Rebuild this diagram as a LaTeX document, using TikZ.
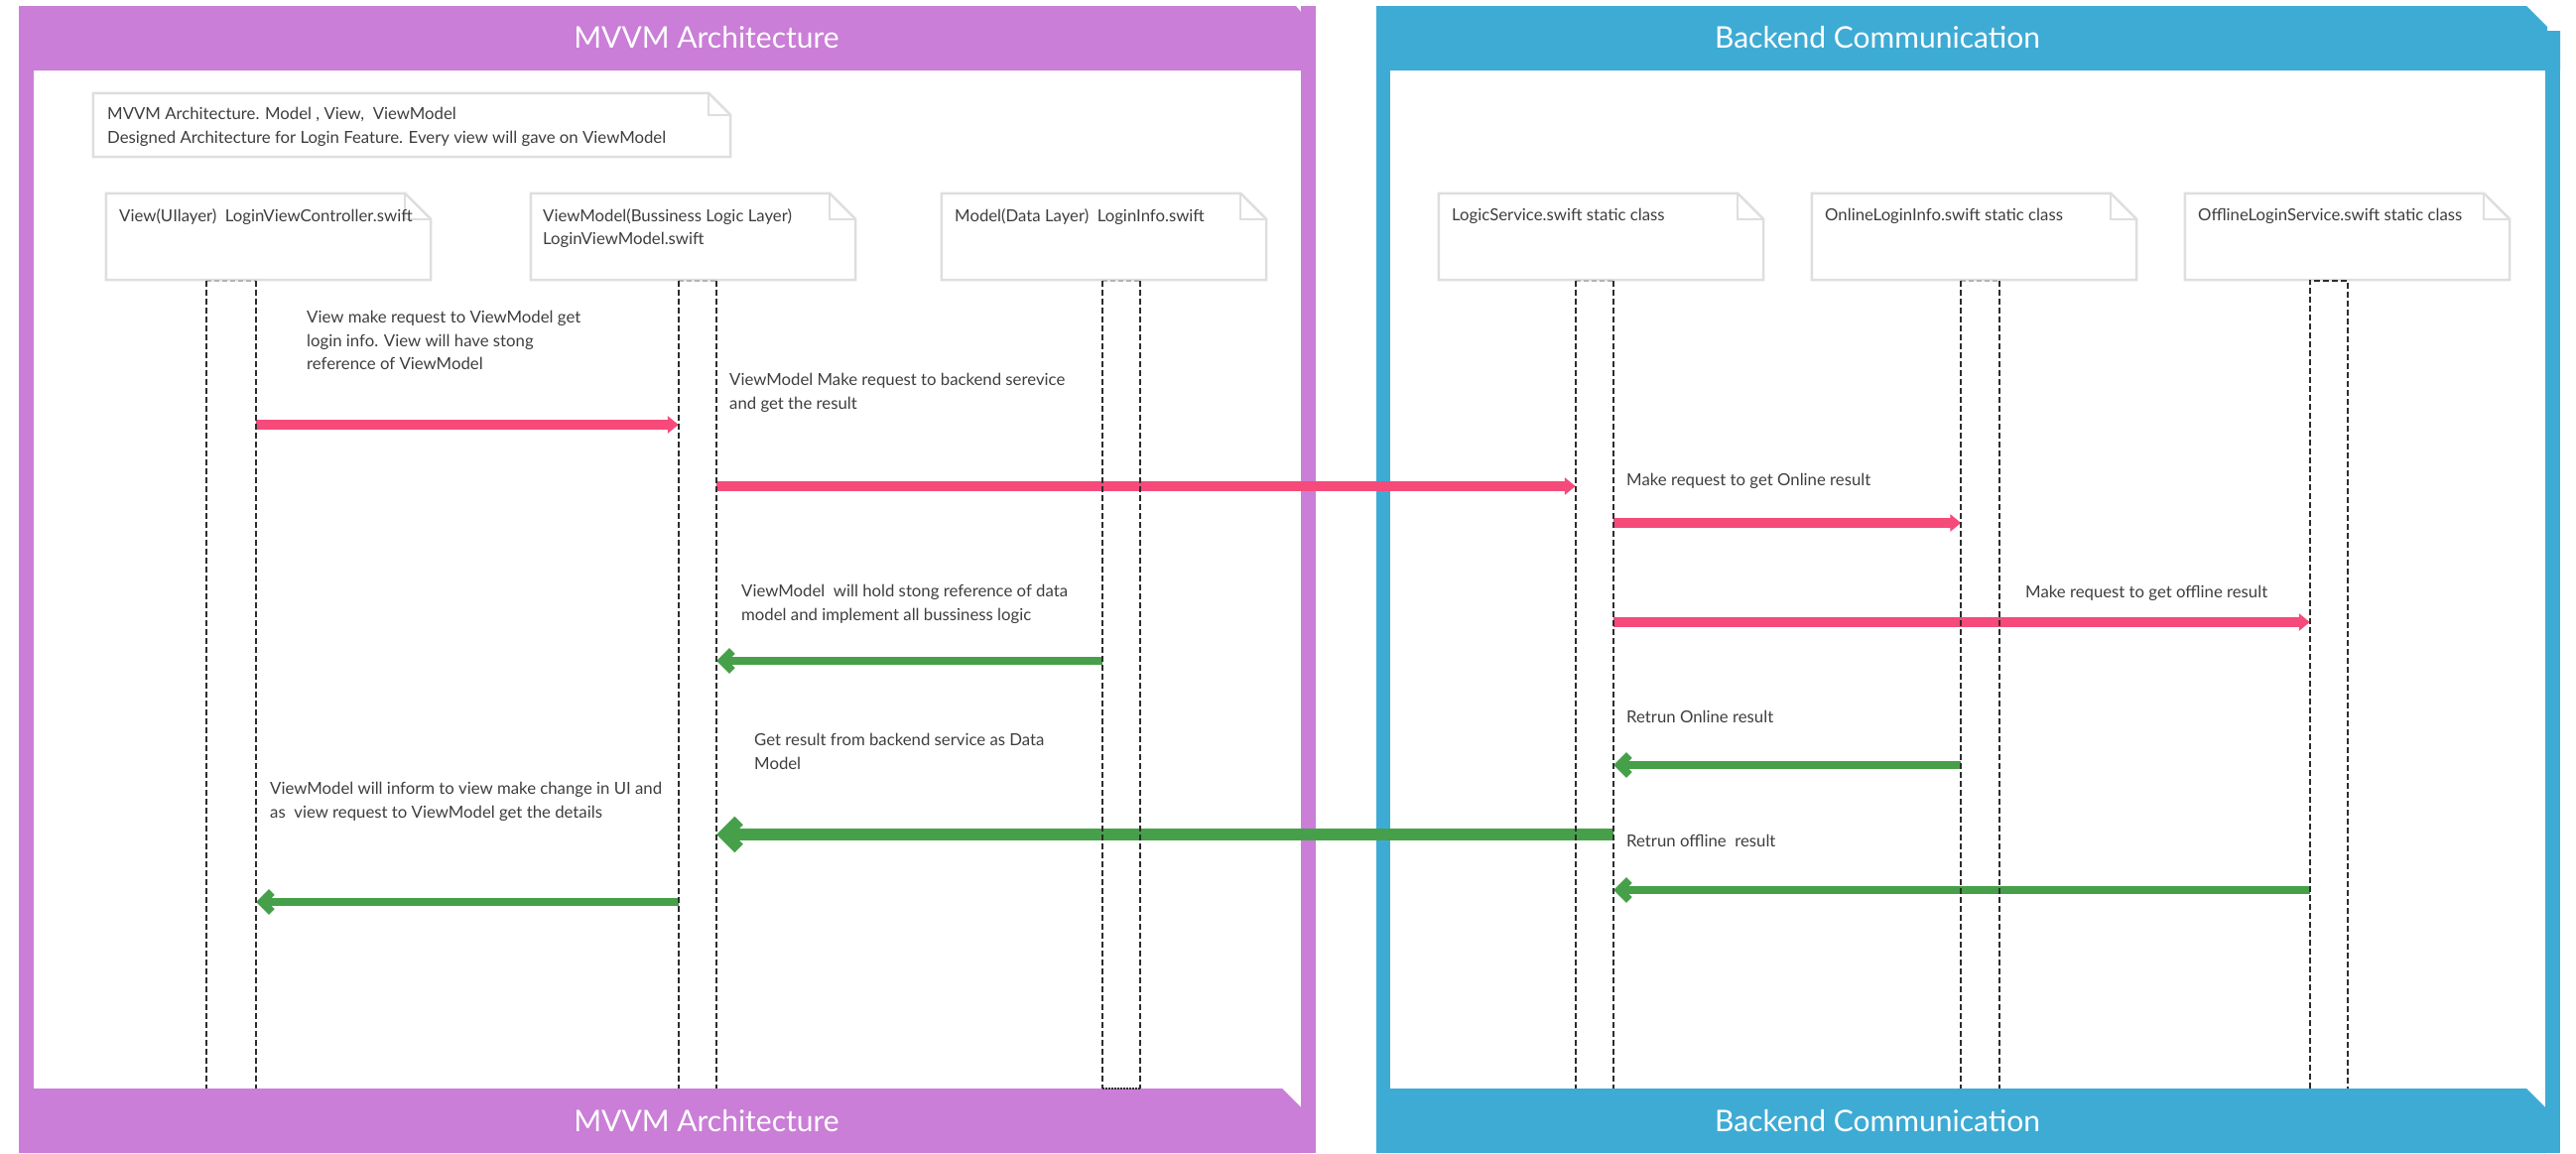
\documentclass[tikz,border=0pt]{standalone}
\usepackage{fontspec}
\setmainfont{Lato}
\usetikzlibrary{arrows.meta}
\definecolor{mvvmc}{RGB}{202,126,215}
\definecolor{backc}{RGB}{62,171,213}
\definecolor{pinkc}{RGB}{245,74,122}
\definecolor{greenc}{RGB}{70,160,74}
\definecolor{notegray}{RGB}{222,222,222}
\definecolor{txtc}{RGB}{62,62,62}
\definecolor{lifec}{RGB}{45,45,45}
\newcommand\foldnote[2]{%
  \draw[noteline] (#1.north west) -- ([xshift=-#2]#1.north east) -- ([yshift=-#2]#1.north east) -- (#1.south east) -- (#1.south west) -- cycle;
  \draw[noteline,fill=none] ([xshift=-#2]#1.north east) |- ([yshift=-#2]#1.north east);}
\begin{document}
\begin{tikzpicture}[x=1pt,y=-1pt,
  lbl/.style={anchor=north west, inner sep=0pt, align=left, text=txtc, font=\fontsize{16.75}{23.5}\selectfont},
  ttl/.style={text=white, inner sep=0pt, font=\fontsize{30}{35}\selectfont},
  notebox/.style={inner sep=0pt, minimum width=327pt, minimum height=87pt},
  noteline/.style={draw=notegray, line width=2.5pt, fill=white, line join=miter},
  barbox/.style={inner sep=0pt, minimum width=38pt, minimum height=814pt},
  lifeline/.style={draw=lifec, line width=2pt, dash pattern=on 6pt off 3pt},
  bartop/.style={draw=lifec!35, line width=1.5pt, dash pattern=on 5pt off 3pt},
  req/.style={draw=pinkc, line width=10pt, -{Triangle[length=11pt,width=17pt]}},
  ret/.style={draw=greenc, line width=8pt, -{Straight Barb[length=10pt,width=20pt,sharp]}},
  retbig/.style={draw=greenc, line width=12pt, -{Straight Barb[length=14pt,width=28pt,sharp]}}
]
\useasboundingbox (0,0) rectangle (2596,1162);
% ---------- frames ----------
\fill[mvvmc] (19,6) rectangle (34,1162);
\fill[mvvmc] (19,6) -- (1306,6) -- (1311,12) -- (1311,71) -- (19,71) -- cycle;
\fill[mvvmc] (1311,6) rectangle (1326,1162);
\fill[mvvmc] (19,1097) -- (1292,1097) -- (1311,1116) -- (1311,1162) -- (19,1162) -- cycle;
\fill[backc] (1387,6) rectangle (1401,1162);
\fill[backc] (1387,6) -- (2546,6) -- (2567,27) -- (2567,31) -- (2580,31) -- (2580,71) -- (1387,71) -- cycle;
\fill[backc] (2565,31) rectangle (2580,1162);
\fill[backc] (1387,1097) -- (2546,1097) -- (2565,1116) -- (2565,1162) -- (1387,1162) -- cycle;
\node[ttl] (mvvmTop) at (712,38) {MVVM Architecture};
\node[ttl] (mvvmBot) at (712,1130) {MVVM Architecture};
\node[ttl] (backTop) at (1892,38) {Backend Communication};
\node[ttl] (backBot) at (1892,1130) {Backend Communication};
% ---------- notes ----------
\node[inner sep=0pt, minimum width=642pt, minimum height=64pt] (desc) at (415,126) {};
\foldnote{desc}{22pt}
\node[lbl] (descT) at (108,108) {MVVM Architecture. Model , View,~ ViewModel\\Designed Architecture for Login Feature. Every view will gave on ViewModel};
\node[notebox] (nA) at (270.5,238.5) {};
\node[notebox] (nB) at (698.5,238.5) {};
\node[notebox] (nC) at (1112.5,238.5) {};
\node[notebox] (nD) at (1613.5,238.5) {};
\node[notebox] (nE) at (1989.5,238.5) {};
\node[notebox] (nF) at (2365.5,238.5) {};
\foreach \n in {nA,nB,nC,nD,nE,nF} {\foldnote{\n}{26pt}}
\node[lbl] (tA) at (120,210) {View(UIlayer)~ LoginViewController.swift};
\node[lbl] (tB) at (547,210) {ViewModel(Bussiness Logic Layer)\\LoginViewModel.swift};
\node[lbl] (tC) at (962,210) {Model(Data Layer)~ LoginInfo.swift};
\node[lbl] (tD) at (1463,210) {LogicService.swift static class};
\node[lbl] (tE) at (1839,210) {OnlineLoginInfo.swift static class};
\node[lbl] (tF) at (2215,210) {OfflineLoginService.swift static class};
% ---------- lifeline bars ----------
\node[barbox, minimum width=50pt] (barA) at (233,690) {};
\node[barbox] (barB) at (703,690) {};
\node[barbox] (barC) at (1130,690) {};
\node[barbox] (barD) at (1607,690) {};
\node[barbox] (barE) at (1995.5,690) {};
\node[barbox] (barF) at (2347,690) {};
% ---------- messages ----------
\coordinate (m1) at (0,428);
\coordinate (m2) at (0,490);
\coordinate (m3) at (0,527);
\coordinate (m4) at (0,627);
\coordinate (m5) at (0,666);
\coordinate (m6) at (0,771);
\coordinate (m7) at (0,841);
\coordinate (m8) at (0,897);
\coordinate (m9) at (0,909);
\draw[req] (barA.east |- m1) -- (barB.west |- m1);
\draw[req] (barB.east |- m2) -- (barD.west |- m2);
\draw[req] (barD.east |- m3) -- (barE.west |- m3);
\draw[req] (barD.east |- m4) -- (barF.west |- m4);
\draw[ret] (barC.west |- m5) -- (barB.east |- m5);
\draw[ret] (barE.west |- m6) -- (barD.east |- m6);
\draw[retbig] (barD.east |- m7) -- (barB.east |- m7);
\draw[ret] (barF.west |- m8) -- (barD.east |- m8);
\draw[ret] (barB.west |- m9) -- (barA.east |- m9);
% ---------- bar outlines ----------
\foreach \b in {barA,barB,barC,barD,barE} {
  \draw[bartop] (\b.north west) -- (\b.north east);
  \draw[lifeline] (\b.north west) -- (\b.south west);
  \draw[lifeline] (\b.north east) -- (\b.south east);}
\draw[lifeline] (barF.south west) |- (barF.north east) -- (barF.south east);
\draw[lifeline, dash pattern=on 2pt off 1pt] (barC.south west) -- (barC.south east);
% ---------- labels ----------
\node[lbl] (l1) at (309,313) {View make request to ViewModel get\\login info. View will have stong\\reference of ViewModel};
\node[lbl] (l2) at (735,376) {ViewModel Make request to backend serevice\\and get the result};
\node[lbl] (l3) at (1639,477) {Make request to get Online result};
\node[lbl] (l4) at (2041,590) {Make request to get offline result};
\node[lbl] (l5) at (747,589) {ViewModel~ will hold stong reference of data\\model and implement all bussiness logic};
\node[lbl] (l6) at (1639,716) {Retrun Online result};
\node[lbl] (l7) at (760,739) {Get result from backend service as Data\\Model};
\node[lbl] (l8) at (1639,841) {Retrun offline~ result};
\node[lbl] (l9) at (272,788) {ViewModel will inform to view make change in UI and\\as~ view request to ViewModel get the details};
\end{tikzpicture}
\end{document}
